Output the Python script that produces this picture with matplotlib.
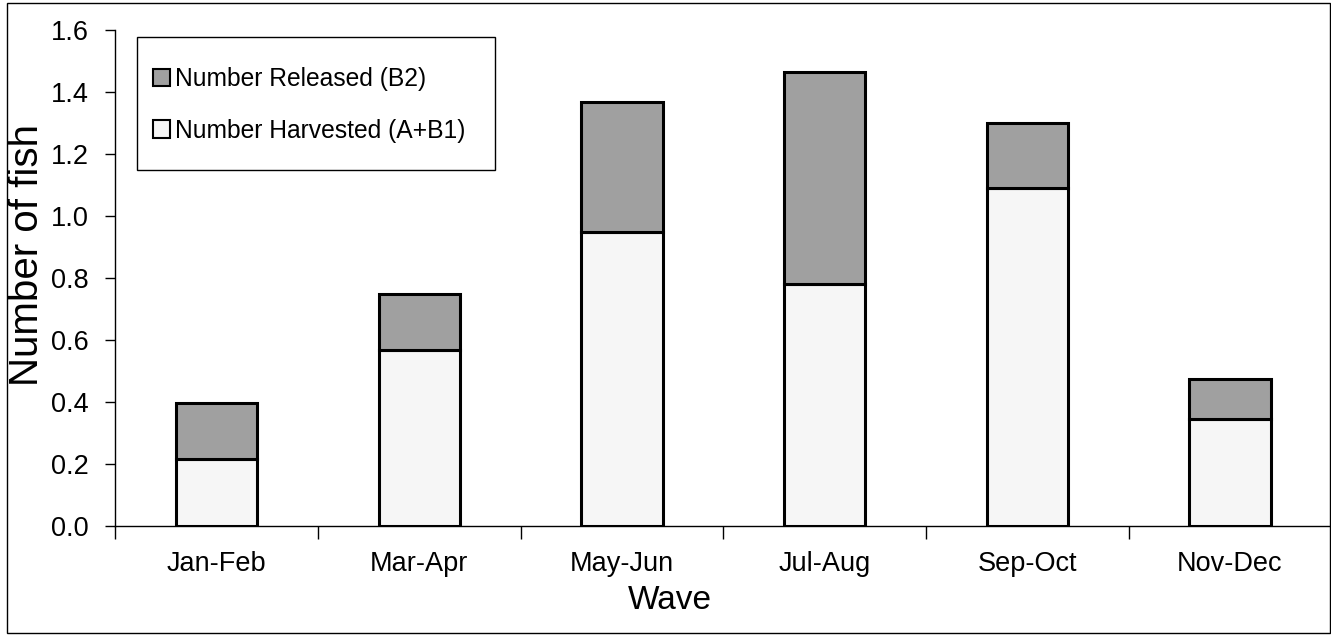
import matplotlib
matplotlib.use("Agg")
import matplotlib.pyplot as plt
from matplotlib.patches import Rectangle, Patch

plt.rcParams['font.family'] = ['Liberation Sans', 'DejaVu Sans']

# data
waves = ['Jan-Feb', 'Mar-Apr', 'May-Jun', 'Jul-Aug', 'Sep-Oct', 'Nov-Dec']
harvested = [0.216, 0.567, 0.948, 0.779, 1.088, 0.346]
totals = [0.395, 0.747, 1.366, 1.464, 1.300, 0.473]
released = [t - h for t, h in zip(totals, harvested)]

c_harv = '#f6f6f6'
c_rel = '#a0a0a0'

W, H = 1331, 636
fig = plt.figure(figsize=(W / 100, H / 100), dpi=100)
ax = fig.add_axes([115.3 / W, (H - 526) / H, 1216 / W, 496.5 / H])

x = list(range(len(waves)))
ax.bar(x, harvested, width=0.4, color=c_harv, edgecolor='black', linewidth=2.2, zorder=3)
ax.bar(x, released, width=0.4, bottom=harvested, color=c_rel, edgecolor='black',
       linewidth=2.2, zorder=3)

ax.set_xlim(-0.5, len(waves) - 0.5)
ax.set_ylim(0, 1.6)
ax.set_yticks([i * 0.2 for i in range(9)])
ax.set_yticklabels(['%.1f' % (i * 0.2) for i in range(9)], fontsize=19.5)
ax.tick_params(axis='y', direction='out', length=7, width=1, pad=12)

# category labels centred, boundary ticks between categories
ax.set_xticks(x)
ax.set_xticklabels(waves, fontsize=19.5)
ax.tick_params(axis='x', which='major', length=0, pad=18)
ax.set_xticks([i - 0.5 for i in range(len(waves) + 1)], minor=True)
ax.tick_params(axis='x', which='minor', direction='out', length=9, width=1)

for s in ['top', 'right']:
    ax.spines[s].set_visible(False)
ax.spines['left'].set_linewidth(1)
ax.spines['bottom'].set_linewidth(1)

ax.set_xlabel('Wave', fontsize=24)
ax.xaxis.set_label_coords(0.456, -0.119)
ax.set_ylabel('Number of fish', fontsize=29)
ax.yaxis.set_label_coords(-0.057, 0.546)

# legend box drawn separately so its padding can match the reference
ax.add_patch(Rectangle((137 / W, 1 - 170 / H), 358 / W, 133.3 / H,
                       transform=fig.transFigure, facecolor='white',
                       edgecolor='black', linewidth=1, zorder=4, clip_on=False))
handles = [Patch(facecolor=c_rel, edgecolor='black', linewidth=1.5),
           Patch(facecolor=c_harv, edgecolor='black', linewidth=1.5)]
leg = ax.legend(handles, ['Number Released (B2)', 'Number Harvested (A+B1)'],
                loc='upper left', bbox_to_anchor=(153 / W, 1 - 67 / H),
                bbox_transform=fig.transFigure, fontsize=17.7, frameon=False,
                handlelength=0.7, handleheight=0.7, handletextpad=0.2,
                labelspacing=1.12, borderpad=0, borderaxespad=0)
leg.set_zorder(5)

# outer border around the whole chart
fig.patches.append(Rectangle((7 / W, 3 / H), 1323 / W, 630 / H, transform=fig.transFigure,
                             fill=False, edgecolor='black', linewidth=1))

fig.savefig('out.png', dpi=100)
